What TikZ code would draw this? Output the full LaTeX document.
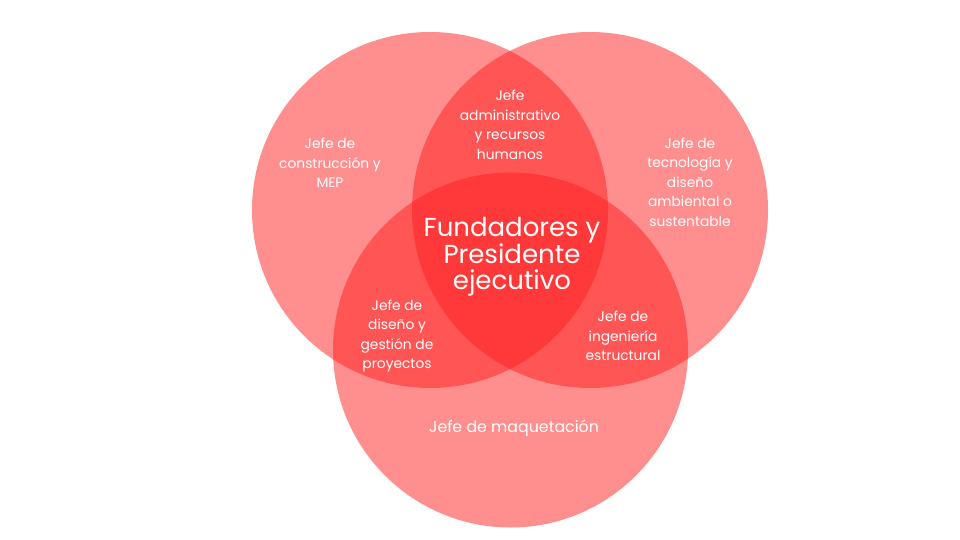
\documentclass[tikz,border=0pt]{standalone}
\usepackage{fontspec}
\setmainfont{Poppins}
\usepackage{tikz}
\usetikzlibrary{positioning}
\definecolor{vennred}{RGB}{255,30,30}

\begin{document}
\begin{tikzpicture}[x=1pt, y=-1pt]
  \tikzstyle{circ}=[fill=vennred, fill opacity=0.5, draw=none]
  \tikzstyle{lbl}=[text=white, align=center, font=\fontsize{13.8}{19.5}\selectfont, inner sep=0pt]
  \tikzstyle{big}=[text=white, align=center, font=\fontsize{26}{26}\selectfont, inner sep=0pt]
  \useasboundingbox[fill=white] (0,0) rectangle (960,540);
  % three circles
  \fill[circ] (430,210) circle (178);
  \fill[circ] (590,210) circle (178);
  \fill[circ] (510.5,350) circle (177.5);
  % labels
  \node[lbl] (mep) at (330,163) {Jefe de\\construcción y\\MEP};
  \node[lbl] (admin) at (510,125) {Jefe\\administrativo\\y recursos\\humanos};
  \node[lbl] (tech) at (690,182) {Jefe de\\tecnología y\\diseño\\ambiental o\\sustentable};
  \node[big] (founders) at (512,257) {Fundadores y\\Presidente\\ejecutivo};
  \node[lbl] (design) at (397,336) {Jefe de\\diseño y\\gestión de\\proyectos};
  \node[lbl] (struct) at (623,336) {Jefe de\\ingeniería\\estructural};
  \node[lbl, font=\fontsize{15.8}{19.5}\selectfont] (model) at (514,428) {Jefe de maquetación};
\end{tikzpicture}
\end{document}
